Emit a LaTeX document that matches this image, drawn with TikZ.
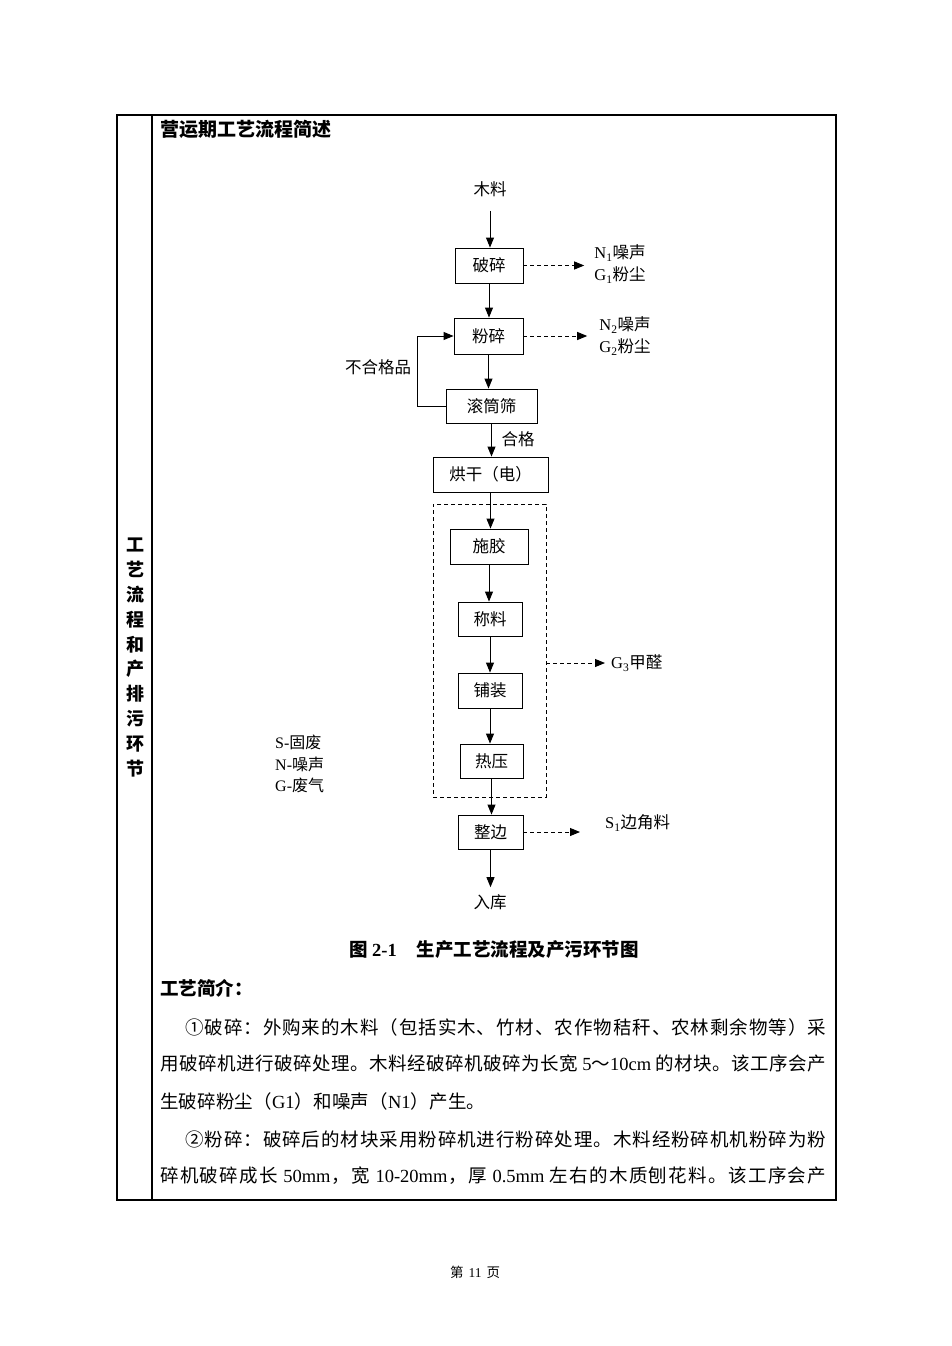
\documentclass[tikz,border=0pt]{standalone}
\usepackage{fontspec}
\setmainfont{Liberation Serif}
\newfontfamily\cjk{Noto Sans CJK SC}
\usetikzlibrary{arrows.meta,calc}
\newcommand\jline[2]{\makebox[#1pt][s]{\spaceskip=0pt plus 1fil\relax\xspaceskip=0pt plus 1fil\relax #2}}
\newcommand\lat[1]{{\rmfamily #1}}
\begin{document}
\begin{tikzpicture}[x=1pt,y=-1pt,
  every node/.style={inner sep=0pt},
  box/.style={draw,line width=0.9pt,font=\cjk\fontsize{16.5}{16.5}\selectfont,minimum height=35pt},
  lbl/.style={font=\cjk\fontsize{16.5}{16.5}\selectfont},
  outl/.style={font=\cjk\fontsize{16.5}{22}\selectfont,align=center},
  para/.style={anchor=west,font=\cjk\fontsize{18.5}{18.5}\selectfont},
  arr/.style={line width=0.9pt,-{Triangle[length=10pt,width=8pt]}},
  darr/.style={line width=0.9pt,dash pattern=on 4pt off 3pt,-{Triangle[length=10pt,width=8pt]}},
  grpbox/.style={draw,line width=0.9pt,dash pattern=on 4pt off 3pt}]
\useasboundingbox (0,0) rectangle (951,1346);
\fill[white] (0,0) rectangle (951,1346);
% table frame
\draw[line width=1.8pt] (117,115) rectangle (836,1200);
\draw[line width=1.2pt] (152,115) -- (152,1200);
% side title
\node[font=\cjk\bfseries\fontsize{18}{24.8}\selectfont,align=center] (side) at (135,657.5) {工\\艺\\流\\程\\和\\产\\排\\污\\环\\节};
% header
\node[anchor=west,font=\cjk\bfseries\fontsize{19}{19}\selectfont] (hd) at (160,129) {营运期工艺流程简述};
% flow
\node[lbl] (mu) at (490,189) {木料};
\node[box,minimum width=68pt] (ps) at (489,265.5) {破碎};
\node[box,minimum width=69pt,minimum height=36pt] (fs) at (488.5,336) {粉碎};
\node[box,minimum width=91pt,minimum height=34pt] (gt) at (491.5,406) {滚筒筛};
\node[box,minimum width=115pt] (hg) at (490.5,474.5) {烘干（电）};
\node[grpbox,minimum width=113pt,minimum height=293pt] (grp) at (489.5,650.5) {};
\node[box,minimum width=78pt] (sj) at (489,546.5) {施胶};
\node[box,minimum width=64pt,minimum height=34pt] (cl) at (490,619) {称料};
\node[box,minimum width=64pt] (pz) at (490,690.5) {铺装};
\node[box,minimum width=63pt,minimum height=34pt] (ry) at (491.5,761) {热压};
\node[box,minimum width=65pt,minimum height=34pt] (zb) at (490.5,832) {整边};
\node[lbl] (rk) at (490,902) {入库};
\node[lbl] (bhg) at (378,367) {不合格品};
\node[lbl] (hgl) at (518,439) {合格};
\node[outl] (o1) at (620,264) {\lat{N\textsubscript{1}}噪声\\\lat{G\textsubscript{1}}粉尘};
\node[outl] (o2) at (625,336) {\lat{N\textsubscript{2}}噪声\\\lat{G\textsubscript{2}}粉尘};
\node[lbl,anchor=west] (o3) at (611,663) {\lat{G\textsubscript{3}}甲醛};
\node[lbl,anchor=west] (o4) at (605,823) {\lat{S\textsubscript{1}}边角料};
\node[anchor=west,align=left,font=\fontsize{16}{21.5}\selectfont] (leg) at (275,764) {S-{\cjk 固废}\\N-{\cjk 噪声}\\G-{\cjk 废气}};
% arrows
\draw[arr,shorten <=14pt] (mu.south) -- (mu.south |- ps.north);
\draw[arr] (ps.south) -- (ps.south |- fs.north);
\draw[arr] (fs.south) -- (fs.south |- gt.north);
\draw[arr] (gt.south) -- (gt.south |- hg.north);
\draw[arr] (hg.south) -- (hg.south |- sj.north);
\draw[arr] (sj.south) -- (sj.south |- cl.north);
\draw[arr] (cl.south) -- (cl.south |- pz.north);
\draw[arr] (pz.south) -- (pz.south |- ry.north);
\draw[arr] (ry.south) -- (ry.south |- zb.north);
\draw[arr,shorten >=7pt] (zb.south) -- (zb.south |- rk.north);
\draw[arr] (gt.west) -- ++(-28,0) |- (fs.west);
\draw[darr,shorten >=10pt] (ps.east) -- (ps.east -| o1.west);
\draw[darr,shorten >=12pt] (fs.east) -- (fs.east -| o2.west);
\draw[darr,shorten >=6pt] (grp.east |- o3.west) -- (o3.west);
\draw[darr,shorten >=25pt] (zb.east) -- (zb.east -| o4.west);
% caption
\node[font=\bfseries\fontsize{18.5}{18.5}\selectfont] (cap) at (494,950) {{\cjk 图} 2-1\hspace{20pt}{\cjk 生产工艺流程及产污环节图}};
\node[anchor=west,font=\cjk\bfseries\fontsize{18.5}{18.5}\selectfont] (intro) at (160,988) {工艺简介：};
% paragraphs
\node[para] (p1) at (185,1027) {\jline{641}{① 破 碎 ： 外 购 来 的 木 料 （ 包 括 实 木 、 竹 材 、 农 作 物 秸 秆 、 农 林 剩 余 物 等 ） 采}};
\node[para] (p2) at (160,1064) {\jline{666}{用 破 碎 机 进 行 破 碎 处 理 。 木 料 经 破 碎 机 破 碎 为 长 宽 \hspace{4pt}\lat{5}～\lat{10cm}\hspace{4pt} 的 材 块 。 该 工 序 会 产}};
\node[para] (p3) at (160,1101) {\jline{325}{生 破 碎 粉 尘 （ \lat{G1} ） 和 噪 声 （ \lat{N1} ） 产 生 。}};
\node[para] (p4) at (185,1139) {\jline{641}{② 粉 碎 ： 破 碎 后 的 材 块 采 用 粉 碎 机 进 行 粉 碎 处 理 。 木 料 经 粉 碎 机 机 粉 碎 为 粉}};
\node[para] (p5) at (160,1176) {\jline{666}{碎 机 破 碎 成 长 \hspace{4pt}\lat{50mm} ， 宽 \hspace{4pt}\lat{10-20mm} ， 厚 \hspace{4pt}\lat{0.5mm}\hspace{4pt} 左 右 的 木 质 刨 花 料 。 该 工 序 会 产}};
% footer
\node[font=\fontsize{13.5}{13.5}\selectfont] (ft) at (475,1272) {{\cjk 第}\hspace{5pt}11\hspace{5pt}{\cjk 页}};
\end{tikzpicture}
\end{document}
